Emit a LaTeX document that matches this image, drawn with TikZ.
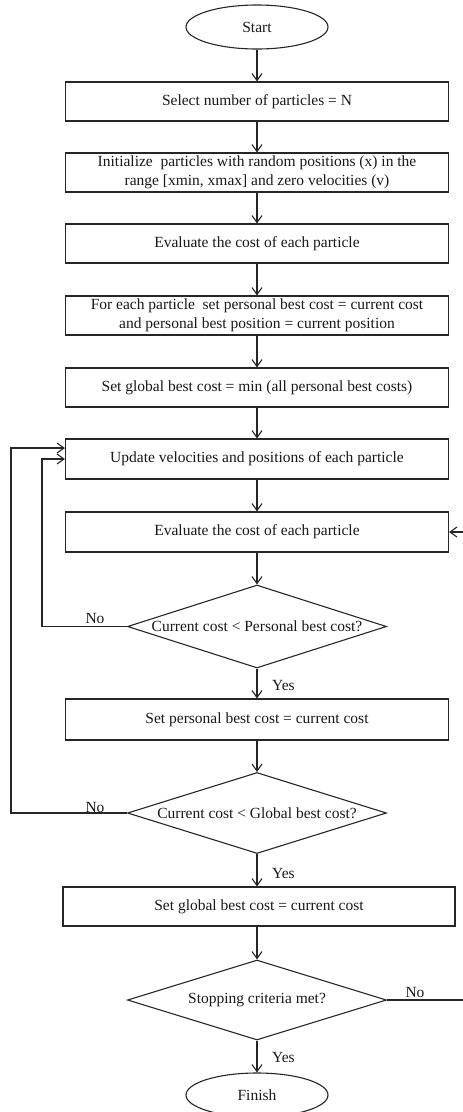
\documentclass[tikz,border=0pt]{standalone}
\usepackage{fontspec}
\setmainfont{Liberation Serif}
\usetikzlibrary{shapes.geometric,arrows.meta}
\begin{document}
\begin{tikzpicture}[x=1pt,y=-1pt,
  every node/.style={font=\fontsize{15.5}{18.5}\selectfont, text=black!90},
  ln/.style={draw=black!85, line width=1.1pt},
  box/.style={ln, rectangle, minimum width=383pt, minimum height=39pt, inner sep=0pt, align=center},
  term/.style={ln, ellipse, minimum width=142pt, minimum height=44pt, inner sep=0pt},
  dec/.style={ln, diamond, minimum width=259pt, minimum height=82pt, inner sep=0pt},
  arr/.style={ln, -{Straight Barb[length=7pt,width=10pt]}},
  lbl/.style={inner sep=0pt}
]
\useasboundingbox (0,0) rectangle (463,1112);

\node[term] (start) at (257,27) {Start};
\node[box] (b1) at (257,101.5) {Select number of particles = N};
\node[box] (b2) at (257,172.5) {Initialize\ \ particles with random positions (x) in the\\range [xmin, xmax] and zero velocities (v)};
\node[box] (b3) at (257,243.5) {Evaluate the cost of each particle};
\node[box] (b4) at (257,315.5) {For each particle\ \ set personal best cost = current cost\\and personal best position = current position};
\node[box] (b5) at (257,387.5) {Set global best cost = min (all personal best costs)};
\node[box, minimum height=40pt] (b6) at (257,459) {Update velocities and positions of each particle};
\node[box, minimum height=40pt] (b7) at (257,532) {Evaluate the cost of each particle};
\node[dec, minimum height=83pt, label={[lbl]center:{Current cost < Personal best cost?}}] (d1) at (257,626.5) {};
\node[box, minimum height=41pt] (b8) at (257,719.5) {Set personal best cost = current cost};
\node[dec, minimum height=81pt, label={[lbl]center:{Current cost < Global best cost?}}] (d2) at (257,813) {};
\node[box, minimum width=392pt] (b9) at (259,906.5) {Set global best cost = current cost};
\node[dec, minimum height=80pt, label={[lbl]center:{Stopping criteria met?}}] (d3) at (257,1000) {};
\node[term] (finish) at (257,1095) {Finish};

\node[lbl] (no1) at (95,618) {No};
\node[lbl] (yes1) at (283.5,685) {Yes};
\node[lbl] (no2) at (95,807) {No};
\node[lbl] (yes2) at (283.5,873) {Yes};
\node[lbl] (no3) at (415,992) {No};
\node[lbl] (yes3) at (283.5,1057) {Yes};

\coordinate (c1) at (42,626.5);
\coordinate (c2) at (11,813);
\coordinate (c3) at (470,1000);

\draw[arr] (start) -- (b1);
\draw[arr] (b1) -- (b2);
\draw[arr] (b2) -- (b3);
\draw[arr] (b3) -- (b4);
\draw[arr] (b4) -- (b5);
\draw[arr] (b5) -- (b6);
\draw[arr] (b6) -- (b7);
\draw[arr] (b7) -- (d1);
\draw[arr] (d1) -- (b8);
\draw[arr] (b8) -- (d2);
\draw[arr] (d2.south) -- (d2.south |- b9.north);
\draw[arr] (b9.south -| d3.north) -- (d3.north);
\draw[arr] (d3) -- (finish);

\draw[arr] (d1.west) -- (c1) |- (b6.west);
\draw[arr] (d2.west) -- (c2) |- ([yshift=11pt]b6.west);
\draw[arr] (d3.east) -- (c3) |- (b7.east);
\end{tikzpicture}
\end{document}
